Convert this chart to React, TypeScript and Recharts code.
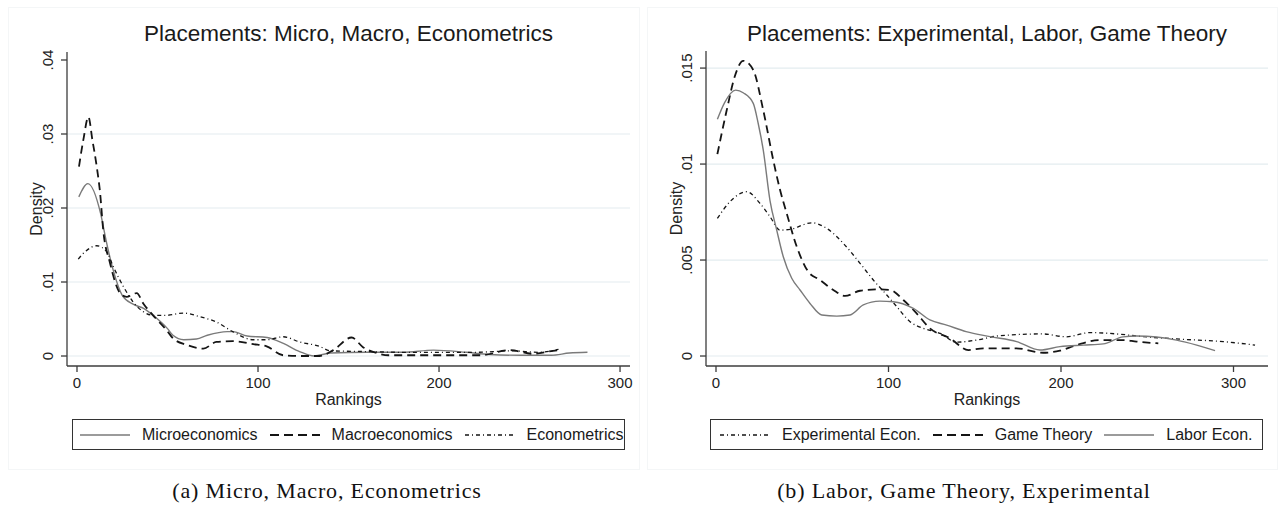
import React from "react";
import { LineChart, Line, XAxis, YAxis, CartesianGrid } from "recharts";

// ---------- Panel (a): Micro, Macro, Econometrics ----------
const microRank = [1, 6, 13, 16, 20, 25, 31, 37, 42, 50, 53, 59, 66, 72, 83, 86, 94, 105, 114, 123, 131, 140, 160, 180, 197, 215, 228, 245, 262, 272, 282];
const microDensity = [0.0215, 0.0233, 0.0193, 0.0157, 0.0116, 0.0082, 0.007, 0.0064, 0.0055, 0.0037, 0.0028, 0.0022, 0.0023, 0.0028, 0.0033, 0.0033, 0.0027, 0.0025, 0.0017, 0.0006, 0.0, 0.0004, 0.0005, 0.0005, 0.0008, 0.0005, 0.0002, 0.0001, 0.0001, 0.0004, 0.0005];

const macroRank = [1.1, 3.5, 6.3, 8.5, 10.9, 12.7, 14.5, 18.2, 23.8, 27.4, 33, 36.6, 42, 49.5, 53, 60.6, 69.8, 77, 86, 97.4, 104.8, 114, 125, 134, 141.6, 151.7, 158, 165.6, 172, 200, 223, 239, 252, 263, 266];
const macroDensity = [0.0256, 0.0292, 0.0323, 0.0292, 0.0256, 0.0222, 0.017, 0.0126, 0.0085, 0.008, 0.0085, 0.0071, 0.0055, 0.0035, 0.0024, 0.0015, 0.001, 0.0019, 0.002, 0.0016, 0.0013, 0.0001, 0.0, 0.0, 0.0008, 0.0025, 0.0012, 0.0004, 0.0001, 0.0001, 0.0001, 0.0008, 0.0003, 0.0007, 0.0008];

const econRank = [0.7, 5, 10.9, 16.4, 20, 25.6, 31, 36.6, 42, 49.5, 58.7, 68, 77, 86, 97.4, 104.8, 114, 123, 134, 140, 160, 180, 200, 220, 240, 255, 266];
const econDensity = [0.0131, 0.0142, 0.0149, 0.0141, 0.0121, 0.0094, 0.0073, 0.006, 0.0055, 0.0055, 0.0058, 0.0053, 0.0046, 0.0033, 0.0022, 0.0022, 0.0026, 0.0019, 0.0013, 0.0007, 0.0006, 0.0005, 0.0005, 0.0005, 0.0007, 0.0005, 0.0009];

// ---------- Panel (b): Experimental, Labor, Game Theory ----------
const laborRank = [0.8, 5, 11.4, 16, 21.6, 24.5, 27.4, 31.3, 35.2, 39, 43.9, 48.7, 54.5, 61.3, 70, 77.7, 85.4, 95, 102.8, 114.4, 124, 133.7, 145, 158.8, 174.3, 187.8, 199.4, 213, 224.5, 236, 243.8, 267, 278.7, 289.3];
const laborDensity = [0.01233, 0.0132, 0.01385, 0.0137, 0.01316, 0.0121, 0.01073, 0.0081, 0.00656, 0.00517, 0.00405, 0.00344, 0.00274, 0.00214, 0.00208, 0.00214, 0.00266, 0.00286, 0.00283, 0.00248, 0.00188, 0.00161, 0.00127, 0.00101, 0.00075, 0.00031, 0.00049, 0.00057, 0.00063, 0.001, 0.00104, 0.00083, 0.00057, 0.00028];

const gameRank = [0.8, 6.2, 11, 15.8, 21.6, 27.4, 33.2, 37, 41, 46.8, 53.5, 60.3, 68, 74.8, 83.5, 93.2, 100.9, 108.6, 116.3, 124, 135.7, 146.3, 155, 174, 189.7, 199.4, 209, 222.6, 236, 243.8, 256.4];
const gameDensity = [0.01052, 0.0128, 0.0146, 0.01538, 0.0149, 0.0128, 0.0102, 0.0087, 0.00743, 0.0057, 0.00439, 0.00396, 0.00344, 0.00313, 0.0034, 0.00347, 0.00344, 0.00292, 0.00222, 0.00144, 0.00092, 0.00031, 0.0004, 0.0004, 0.00017, 0.00028, 0.00057, 0.00083, 0.00083, 0.00075, 0.00066];

const expRank = [0.8, 8.1, 17.8, 25.5, 31.3, 37.1, 42.9, 55.5, 64.2, 73.8, 83.5, 91.2, 99, 104.8, 112.5, 120.2, 129.9, 139.5, 151, 164.6, 189.7, 203, 216.8, 232.3, 247.7, 271, 294, 312.5];
const expDensity = [0.00717, 0.00804, 0.00856, 0.00795, 0.00726, 0.00656, 0.0066, 0.00694, 0.00665, 0.00587, 0.00483, 0.00396, 0.00318, 0.00257, 0.00179, 0.00144, 0.00118, 0.00072, 0.00083, 0.00106, 0.00115, 0.001, 0.00122, 0.00115, 0.00101, 0.00087, 0.00075, 0.00057];

// ---------- Axis ticks and text ----------
const xTicks = [0, 100, 200, 300];
const leftYTicks = [0, 0.01, 0.02, 0.03, 0.04];
const leftGridValues = [0, 0.01, 0.02, 0.03];
const rightYTicks = [0, 0.005, 0.01, 0.015];
const rightGridValues = [0, 0.005, 0.01, 0.015];

const leftTitle = "Placements: Micro, Macro, Econometrics";
const rightTitle = "Placements: Experimental, Labor, Game Theory";
const leftCaption = "(a) Micro, Macro, Econometrics";
const rightCaption = "(b) Labor, Game Theory, Experimental";
const xLabel = "Rankings";
const yLabel = "Density";

const SANS = "'Liberation Sans', Arial, Helvetica, sans-serif";
const SERIF = "'Liberation Serif', 'Times New Roman', serif";

type Style = { stroke: string; width: number; dash?: string; legendDash?: string };
const SOLID: Style = { stroke: "#7a7a7a", width: 1.4 };
const DASH: Style = { stroke: "#151515", width: 1.8, dash: "8 5", legendDash: "9 5" };
const DASHDOT: Style = { stroke: "#151515", width: 1.3, dash: "4 3 1 3", legendDash: "4 3 1 3" };

type Series = { name: string; rank: number[]; density: number[]; style: Style };

const leftSeries: Series[] = [
  { name: "Microeconomics", rank: microRank, density: microDensity, style: SOLID },
  { name: "Macroeconomics", rank: macroRank, density: macroDensity, style: DASH },
  { name: "Econometrics", rank: econRank, density: econDensity, style: DASHDOT },
];
const rightSeries: Series[] = [
  { name: "Experimental Econ.", rank: expRank, density: expDensity, style: DASHDOT },
  { name: "Game Theory", rank: gameRank, density: gameDensity, style: DASH },
  { name: "Labor Econ.", rank: laborRank, density: laborDensity, style: SOLID },
];

const zip = (r: number[], d: number[]) => r.map((x, i) => ({ rank: x, density: d[i] }));

const fmtY = (v: number) => (v === 0 ? "0" : String(v).replace(/^0/, ""));

const RotTick = (props: any) => {
  const { x, y, payload } = props;
  return (
    <text x={x} y={y} transform={`rotate(-90 ${x} ${y})`} textAnchor="middle" fontSize={15} fill="#222" fontFamily={SANS}>
      {fmtY(payload.value)}
    </text>
  );
};

const renderYLabel = (props: any) => {
  const vb = props.viewBox || {};
  const x = (vb.x || 0) + 42;
  const y = (vb.y || 0) + (vb.height || 0) / 2;
  return (
    <text x={x} y={y} transform={`rotate(-90 ${x} ${y})`} textAnchor="middle" fontSize={16} fill="#222" fontFamily={SANS}>
      {yLabel}
    </text>
  );
};

const renderXLabel = (props: any) => {
  const vb = props.viewBox || {};
  const x = (vb.x || 0) + (vb.width || 0) / 2;
  const y = (vb.y || 0) + 39;
  return (
    <text x={x} y={y} textAnchor="middle" fontSize={16} fill="#222" fontFamily={SANS}>
      {xLabel}
    </text>
  );
};

type PanelProps = {
  left: number;
  series: Series[];
  title: string;
  caption: string;
  captionCenter: number;
  yTicks: number[];
  gridValues: number[];
  xDomain: [number, number];
  yDomain: [number, number];
  yAxisWidth: number;
  marginRight: number;
  marginTop: number;
  legendPad: number;
  legendLeft: number;
  legendWidth: number;
};

const Sample = ({ style }: { style: Style }) => (
  <svg width={50} height={10} style={{ display: "block", flex: "0 0 auto" }}>
    <line x1={0} y1={5} x2={50} y2={5} stroke={style.stroke} strokeWidth={style.width} strokeDasharray={style.legendDash} />
  </svg>
);

const Panel = (p: PanelProps) => {
  const W = 640;
  const H = 470;
  const plotLeft = p.yAxisWidth;
  const plotRight = W - p.marginRight;
  const plotCenter = p.left + (plotLeft + plotRight) / 2;
  return (
    <>
      <div
        style={{
          position: "absolute",
          left: p.left + (p.left === 0 ? 8 : 7),
          top: 7,
          width: p.left === 0 ? 632 : 631,
          height: 463,
          border: "1px solid #f4f6f7",
          boxSizing: "border-box",
        }}
      />
      <div
        style={{
          position: "absolute",
          left: plotCenter - 300,
          width: 600,
          top: 23,
          textAlign: "center",
          fontFamily: SANS,
          fontSize: 22.5,
          lineHeight: "22px",
          color: "#1a1a1a",
          whiteSpace: "nowrap",
        }}
      >
        {p.title}
      </div>
      <div style={{ position: "absolute", left: p.left, top: 0 }}>
        <LineChart width={W} height={H} margin={{ top: p.marginTop, right: p.marginRight, bottom: 74, left: 0 }}>
          <CartesianGrid vertical={false} horizontalValues={p.gridValues} stroke="#e3ecef" strokeWidth={1.2} />
          <XAxis
            dataKey="rank"
            type="number"
            domain={p.xDomain}
            ticks={xTicks}
            allowDataOverflow
            height={30}
            tickSize={6}
            tickMargin={5}
            stroke="#3c3c3c"
            strokeWidth={1.3}
            tick={{ fontSize: 15, fill: "#222", fontFamily: SANS }}
            label={renderXLabel}
          />
          <YAxis
            type="number"
            domain={p.yDomain}
            ticks={p.yTicks}
            allowDataOverflow
            width={p.yAxisWidth}
            tickSize={6}
            tickMargin={8}
            stroke="#3c3c3c"
            strokeWidth={1.3}
            tick={<RotTick />}
            label={renderYLabel}
          />
          {p.series.map((s) => (
            <Line
              key={s.name}
              data={zip(s.rank, s.density)}
              dataKey="density"
              name={s.name}
              type="monotone"
              stroke={s.style.stroke}
              strokeWidth={s.style.width}
              strokeDasharray={s.style.dash}
              dot={false}
              activeDot={false}
              isAnimationActive={false}
            />
          ))}
        </LineChart>
      </div>
      <div
        style={{
          position: "absolute",
          left: p.left + p.legendLeft,
          top: 419,
          width: p.legendWidth,
          height: 31,
          border: "1.3px solid #333",
          boxSizing: "border-box",
          display: "flex",
          alignItems: "center",
          paddingLeft: p.legendPad,
          fontFamily: SANS,
          fontSize: 16,
          color: "#1a1a1a",
          whiteSpace: "nowrap",
          overflow: "hidden",
        }}
      >
        {p.series.map((s, i) => (
          <div key={s.name} style={{ display: "flex", alignItems: "center", marginLeft: i === 0 ? 0 : 12 }}>
            <Sample style={s.style} />
            <span style={{ marginLeft: 12, lineHeight: "18px" }}>{s.name}</span>
          </div>
        ))}
      </div>
      <div
        style={{
          position: "absolute",
          left: p.captionCenter - 250,
          width: 500,
          top: 480,
          textAlign: "center",
          fontFamily: SERIF,
          fontSize: 22,
          lineHeight: "22px",
          letterSpacing: "0.85px",
          color: "#111",
          whiteSpace: "nowrap",
        }}
      >
        {p.caption}
      </div>
    </>
  );
};

export default function App() {
  return (
    <div style={{ position: "absolute", left: 0, top: 0, width: 1283, height: 506, background: "#fff", overflow: "hidden" }}>
      <Panel
        left={0}
        series={leftSeries}
        title={leftTitle}
        caption={leftCaption}
        captionCenter={327}
        yTicks={leftYTicks}
        gridValues={leftGridValues}
        xDomain={[-5.52, 305.5]}
        yDomain={[-0.00135, 0.04108]}
        yAxisWidth={67}
        marginRight={10}
        marginTop={52}
        legendPad={7}
        legendLeft={72}
        legendWidth={553}
      />
      <Panel
        left={640}
        series={rightSeries}
        title={rightTitle}
        caption={rightCaption}
        captionCenter={964}
        yTicks={rightYTicks}
        gridValues={rightGridValues}
        xDomain={[-5.8, 320]}
        yDomain={[-0.00052, 0.01589]}
        yAxisWidth={66}
        marginRight={12}
        marginTop={51}
        legendPad={9}
        legendLeft={70}
        legendWidth={553}
      />
    </div>
  );
}
